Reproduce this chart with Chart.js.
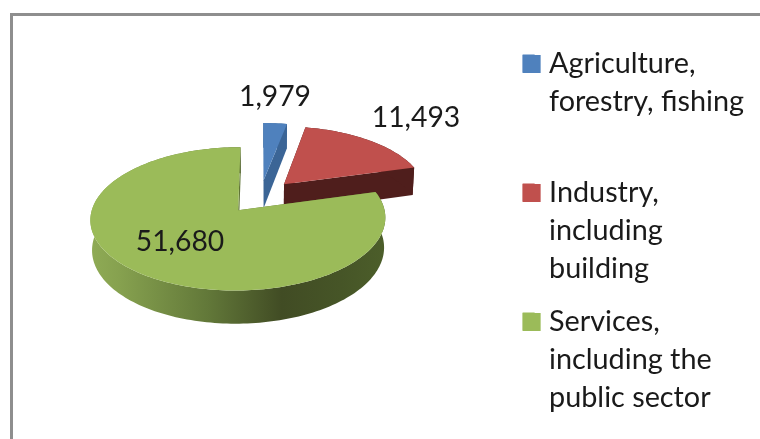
<!DOCTYPE html>
<html><head><meta charset="utf-8">
<style>html,body{margin:0;padding:0;background:#fff}#w{width:760px;height:439px;filter:blur(0.6px)}canvas{display:block}</style>
<script src="https://cdn.jsdelivr.net/npm/chart.js@4"></script></head>
<body><div id="w"><canvas id="c" width="760" height="439"></canvas></div>
<script>
const categories = [["Agriculture,","forestry, fishing",""],["Industry,","including","building"],["Services,","including the","public sector"]];
const values = [1979, 11493, 51680];
const valueLabels = ["1,979","11,493","51,680"];
const topColors = ["#4f81bd","#c0504d","#9bbb59"];
const cutColors = ["#3b6596","#4f1e1c","#5f7436"];
const labelPos = [[275,97],[416,118],[180,242]];

const view = {cx:260.3, cy:196.5, rx:143, ry:67.4, k:0.117, explode:0.25, depth:29};
function project(u,v,low){
  const s = 1/(1-view.k*v);
  const sx = low ? 0.99 : 1;
  return [view.cx + view.rx*u*s*sx, view.cy + view.ry*v*s + (low ? view.depth*(1+0.12*v) : 0)];
}
function poly(ctx,pts,fill){
  ctx.beginPath();
  pts.forEach((p,i)=> i ? ctx.lineTo(p[0],p[1]) : ctx.moveTo(p[0],p[1]));
  ctx.closePath(); ctx.fillStyle=fill; ctx.fill();
}
const pie3d = {
  id:'pie3d',
  beforeDraw(chart){
    const ctx=chart.ctx;
    ctx.save(); ctx.fillStyle='#8e8e8e';
    ctx.fillRect(10,13,750,3); ctx.fillRect(10,13,3,426);
    ctx.restore();
  },
  beforeDatasetsDraw(chart){
    const ctx=chart.ctx, arcs=chart.getDatasetMeta(0).data;
    arcs.forEach((arc,i)=>{
      const a0=arc.startAngle, a1=arc.endAngle, mid=(a0+a1)/2;
      const ox=Math.cos(mid)*view.explode, oy=Math.sin(mid)*view.explode;
      const n=Math.max(6,Math.ceil((a1-a0)*40));
      const rim=[];
      for(let j=0;j<=n;j++){const t=a0+(a1-a0)*j/n; rim.push([ox+Math.cos(t),oy+Math.sin(t)]);}
      const top=rim.map(p=>project(p[0],p[1],false));
      const low=rim.map(p=>project(p[0],p[1],true));
      const ct=project(ox,oy,false), cl=project(ox,oy,true);
      poly(ctx,[ct,top[0],low[0],cl],cutColors[i]);
      poly(ctx,[ct,top[n],low[n],cl],cutColors[i]);
      let wall=cutColors[i];
      if(i===2){
        wall=ctx.createLinearGradient(90,0,385,0);
        wall.addColorStop(0,'#8fab55');wall.addColorStop(0.1,'#86a14f');
        wall.addColorStop(0.4,'#627839');wall.addColorStop(0.65,'#414c24');
        wall.addColorStop(0.85,'#465527');wall.addColorStop(1,'#4c5e2a');
      }
      poly(ctx,top.concat(low.slice().reverse()),wall);
      poly(ctx,[ct].concat(top),topColors[i]);
    });
    return false;
  },
  afterDraw(chart){
    const ctx=chart.ctx;
    ctx.save();
    chart.legend.legendHitBoxes.forEach((b,i)=>{ctx.fillStyle=topColors[i];ctx.fillRect(b.left,b.top+6,18,18);});
    ctx.font='28.3px Lato';ctx.fillStyle='#1a1a1a';ctx.textAlign='center';ctx.textBaseline='middle';
    valueLabels.forEach((t,i)=>ctx.fillText(t,labelPos[i][0],labelPos[i][1]));
    ctx.restore();
  }
};
new Chart(document.getElementById('c'),{
  type:'pie',
  data:{labels:categories,datasets:[{data:values,backgroundColor:topColors,borderWidth:0}]},
  options:{
    responsive:false,animation:false,
    layout:{padding:{top:34,right:6}},
    plugins:{
      tooltip:{enabled:false},
      legend:{display:true,position:'right',align:'start',
        labels:{boxWidth:12,boxHeight:18,padding:15,color:'#1a1a1a',font:{family:'Lato',size:28.8,lineHeight:38/28.8}}}
    }
  },
  plugins:[pie3d]
});
</script></body></html>
